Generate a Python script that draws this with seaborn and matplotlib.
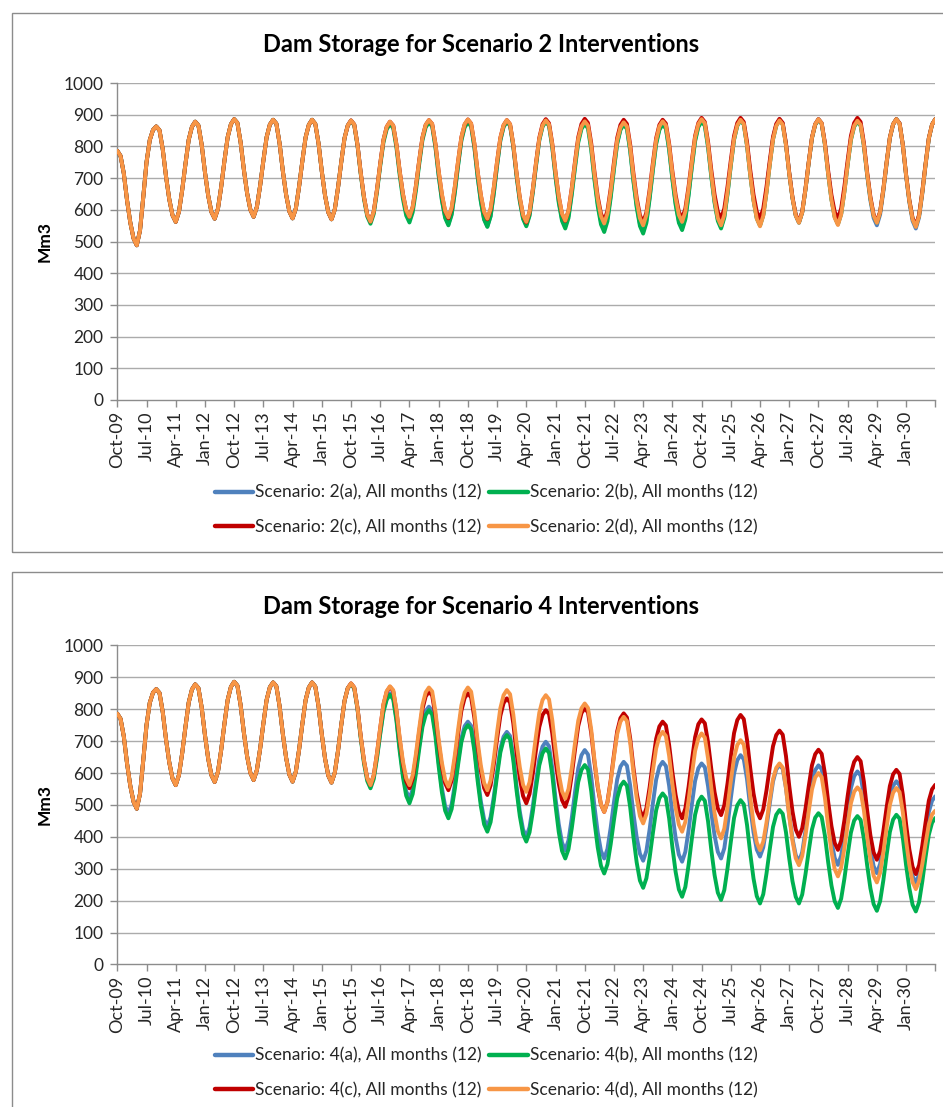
import numpy as np
import pandas as pd
import matplotlib
matplotlib.use("Agg")
import matplotlib.pyplot as plt
from matplotlib.lines import Line2D
from matplotlib.patches import Rectangle
import seaborn as sns

# ---------------- data (monthly storage, Mm3, Oct-09 .. Oct-30) ----------------
# common to every scenario: Oct-09 .. Sep-15
common_start = [
    786, 770, 715, 630, 560, 510, 488, 535, 640, 750, 820, 852,
    863, 851, 791, 706, 634, 583, 562, 594, 663, 745, 821, 862,
    878, 866, 805, 719, 645, 593, 572, 603, 672, 754, 829, 870,
    886, 874, 812, 726, 652, 600, 578, 609, 676, 755, 829, 869,
    884, 872, 809, 722, 648, 595, 573, 604, 673, 753, 828, 868,
    884, 871, 809, 721, 645, 592, 570, 601, 670, 751, 826, 866,
]

# Oct-15 .. Oct-30
s2a_rest = [
    882, 869, 805, 716, 639, 584, 562, 593, 662, 744, 819, 860,
    876, 864, 803, 718, 645, 593, 572, 603, 671, 751, 825, 865,
    880, 867, 802, 711, 633, 578, 555, 588, 659, 744, 822, 864,
    880, 867, 800, 707, 628, 571, 548, 581, 654, 741, 820, 863,
    880, 867, 801, 709, 631, 575, 552, 585, 657, 742, 821, 864,
    880, 867, 800, 707, 628, 571, 548, 581, 654, 739, 819, 862,
    878, 864, 797, 702, 621, 564, 540, 573, 646, 733, 812, 855,
    872, 858, 790, 695, 614, 556, 532, 566, 641, 730, 812, 857,
    874, 861, 794, 701, 622, 565, 542, 576, 651, 739, 821, 865,
    882, 869, 801, 707, 627, 570, 546, 580, 654, 742, 823, 867,
    884, 871, 804, 711, 632, 575, 552, 585, 659, 745, 825, 868,
    885, 872, 807, 715, 637, 582, 559, 592, 664, 749, 827, 870,
    886, 873, 807, 714, 634, 578, 555, 588, 660, 745, 823, 866,
    882, 869, 803, 710, 630, 574, 551, 585, 658, 745, 826, 869,
    886, 872, 803, 707, 624, 565, 541, 576, 651, 741, 824, 869,
    886,
]
s2b_rest = [
    880, 867, 802, 712, 634, 579, 556, 587, 656, 738, 813, 854,
    870, 858, 796, 709, 634, 582, 560, 592, 661, 743, 819, 860,
    876, 863, 798, 707, 629, 574, 551, 584, 655, 740, 818, 860,
    876, 863, 797, 704, 625, 569, 546, 579, 652, 739, 818, 861,
    878, 865, 799, 706, 627, 571, 548, 581, 654, 739, 819, 862,
    878, 865, 797, 703, 622, 565, 541, 574, 647, 732, 812, 855,
    871, 857, 789, 694, 612, 554, 530, 564, 638, 727, 808, 852,
    869, 855, 786, 690, 608, 549, 525, 559, 635, 725, 807, 852,
    869, 856, 789, 696, 616, 559, 536, 570, 645, 734, 816, 861,
    878, 865, 797, 703, 622, 565, 541, 575, 650, 739, 821, 865,
    882, 869, 802, 709, 630, 573, 550, 583, 656, 743, 822, 865,
    882, 869, 805, 715, 637, 583, 560, 592, 664, 748, 826, 868,
    884, 871, 805, 713, 634, 578, 555, 587, 658, 742, 820, 862,
    878, 865, 802, 713, 636, 582, 560, 593, 664, 749, 827, 870,
    886, 872, 805, 710, 629, 572, 548, 582, 656, 744, 825, 869,
    886,
]
s2c_rest = [
    882, 869, 805, 716, 640, 585, 563, 595, 664, 746, 821, 862,
    878, 866, 806, 722, 650, 599, 578, 609, 676, 755, 828, 868,
    883, 871, 809, 722, 647, 595, 573, 604, 673, 754, 829, 869,
    885, 872, 809, 721, 646, 592, 570, 601, 670, 752, 827, 867,
    883, 870, 805, 715, 638, 583, 560, 593, 664, 749, 827, 870,
    886, 873, 809, 719, 642, 587, 565, 597, 668, 752, 829, 871,
    887, 874, 810, 720, 642, 588, 565, 597, 667, 750, 827, 868,
    884, 871, 806, 716, 638, 583, 560, 592, 664, 748, 826, 868,
    884, 872, 809, 722, 647, 594, 572, 604, 674, 756, 833, 874,
    890, 877, 814, 725, 648, 594, 572, 604, 674, 756, 833, 874,
    890, 877, 814, 725, 648, 594, 572, 604, 673, 755, 830, 871,
    887, 874, 809, 718, 640, 585, 562, 594, 666, 750, 828, 870,
    886, 873, 811, 723, 647, 594, 572, 604, 674, 756, 833, 874,
    890, 877, 811, 719, 641, 585, 562, 594, 666, 750, 828, 870,
    886, 873, 805, 711, 631, 574, 550, 584, 658, 745, 826, 869,
    886,
]
s2d_rest = [
    882, 869, 805, 716, 640, 585, 563, 595, 664, 746, 821, 862,
    878, 866, 806, 722, 650, 599, 578, 609, 676, 755, 828, 868,
    883, 871, 809, 723, 650, 597, 576, 607, 675, 755, 829, 870,
    885, 872, 810, 722, 647, 594, 572, 603, 672, 752, 827, 867,
    883, 870, 806, 716, 639, 584, 562, 594, 664, 748, 824, 866,
    882, 869, 806, 718, 642, 588, 566, 597, 666, 748, 823, 863,
    879, 866, 802, 712, 634, 580, 557, 589, 659, 742, 819, 860,
    876, 863, 798, 707, 629, 574, 551, 584, 656, 741, 820, 863,
    879, 866, 803, 714, 638, 584, 562, 594, 666, 750, 828, 870,
    886, 873, 806, 712, 631, 574, 551, 584, 658, 744, 824, 867,
    884, 871, 803, 709, 629, 572, 548, 581, 655, 742, 822, 865,
    882, 869, 804, 714, 637, 582, 559, 592, 664, 749, 827, 870,
    886, 873, 806, 712, 632, 575, 552, 585, 657, 743, 822, 865,
    881, 868, 804, 714, 636, 582, 559, 592, 664, 749, 827, 870,
    886, 872, 804, 709, 628, 570, 546, 580, 655, 743, 825, 869,
    886,
]

s4a_rest = [
    880, 867, 803, 713, 635, 581, 558, 587, 651, 727, 797, 835,
    850, 837, 771, 678, 599, 543, 520, 549, 612, 687, 756, 794,
    808, 795, 728, 634, 553, 496, 473, 502, 565, 640, 709, 747,
    761, 748, 682, 590, 511, 455, 432, 462, 527, 604, 676, 714,
    729, 716, 650, 558, 479, 423, 400, 430, 495, 573, 644, 683,
    698, 684, 616, 521, 440, 382, 358, 389, 458, 540, 615, 656,
    672, 658, 590, 495, 414, 356, 332, 362, 429, 508, 580, 620,
    635, 623, 561, 474, 399, 347, 325, 356, 424, 505, 579, 620,
    635, 622, 560, 472, 397, 344, 322, 353, 421, 501, 575, 615,
    630, 618, 558, 475, 404, 353, 332, 364, 436, 520, 598, 640,
    656, 643, 580, 491, 414, 360, 338, 367, 430, 504, 573, 611,
    625, 613, 552, 467, 395, 343, 322, 352, 419, 497, 570, 609,
    624, 612, 549, 462, 387, 334, 312, 341, 406, 482, 552, 590,
    605, 592, 528, 439, 363, 308, 286, 315, 378, 453, 522, 560,
    574, 561, 497, 408, 332, 277, 255, 282, 342, 413, 478, 513,
    527,
]
s4b_rest = [
    878, 865, 800, 708, 630, 575, 552, 581, 646, 722, 792, 830,
    845, 831, 763, 668, 587, 529, 505, 534, 598, 674, 744, 782,
    797, 783, 716, 621, 539, 482, 458, 487, 551, 627, 697, 735,
    750, 737, 670, 576, 496, 439, 416, 446, 513, 592, 664, 704,
    719, 706, 639, 545, 465, 408, 385, 414, 478, 554, 624, 662,
    677, 663, 594, 498, 415, 356, 332, 361, 426, 502, 572, 610,
    625, 611, 543, 448, 367, 309, 285, 314, 377, 452, 521, 559,
    573, 560, 493, 400, 320, 263, 240, 270, 335, 412, 483, 521,
    536, 523, 458, 368, 290, 235, 212, 243, 312, 394, 469, 510,
    526, 513, 448, 358, 280, 225, 202, 233, 302, 384, 459, 499,
    515, 502, 437, 347, 269, 214, 191, 220, 285, 361, 431, 469,
    484, 472, 414, 332, 261, 212, 191, 219, 282, 355, 423, 460,
    474, 462, 403, 320, 248, 198, 177, 206, 269, 344, 413, 451,
    465, 453, 394, 311, 239, 189, 168, 198, 264, 343, 415, 454,
    469, 457, 396, 311, 239, 187, 166, 195, 260, 336, 406, 444,
    459,
]
s4c_rest = [
    881, 868, 804, 715, 639, 584, 562, 593, 661, 741, 815, 855,
    870, 857, 794, 705, 628, 574, 552, 582, 649, 728, 800, 840,
    855, 843, 781, 694, 620, 568, 546, 576, 643, 722, 795, 835,
    850, 837, 773, 684, 608, 553, 531, 561, 628, 707, 779, 819,
    834, 821, 755, 663, 584, 528, 505, 534, 598, 674, 744, 782,
    797, 785, 724, 639, 567, 515, 494, 525, 593, 673, 747, 788,
    803, 790, 725, 634, 556, 501, 478, 509, 577, 657, 731, 772,
    787, 774, 709, 617, 538, 483, 460, 490, 556, 635, 707, 746,
    761, 749, 688, 603, 531, 479, 458, 489, 557, 638, 712, 753,
    768, 756, 696, 612, 540, 489, 468, 499, 568, 650, 725, 766,
    782, 769, 704, 614, 536, 481, 458, 486, 546, 618, 684, 719,
    733, 720, 653, 560, 480, 423, 400, 427, 487, 558, 624, 659,
    673, 660, 598, 510, 434, 381, 359, 388, 452, 528, 598, 635,
    650, 637, 573, 483, 405, 351, 328, 356, 418, 492, 559, 596,
    610, 597, 532, 440, 361, 306, 283, 311, 373, 445, 513, 549,
    563,
]
s4d_rest = [
    881, 868, 804, 715, 639, 584, 562, 593, 661, 742, 816, 857,
    872, 860, 798, 711, 636, 584, 562, 593, 660, 739, 813, 853,
    868, 856, 793, 706, 632, 579, 557, 588, 657, 737, 812, 852,
    868, 855, 791, 701, 623, 569, 546, 577, 646, 728, 803, 844,
    860, 847, 783, 694, 618, 563, 541, 571, 638, 717, 789, 829,
    844, 831, 766, 676, 598, 543, 520, 550, 615, 693, 764, 803,
    818, 804, 736, 641, 560, 502, 478, 508, 573, 651, 722, 761,
    776, 763, 696, 602, 522, 465, 442, 471, 534, 608, 677, 715,
    729, 716, 654, 566, 491, 438, 416, 447, 515, 595, 669, 709,
    724, 711, 645, 553, 474, 418, 395, 426, 494, 574, 648, 688,
    703, 689, 620, 524, 441, 382, 358, 385, 445, 516, 581, 616,
    630, 617, 553, 464, 388, 333, 311, 340, 403, 479, 548, 586,
    600, 587, 522, 432, 354, 299, 276, 304, 365, 438, 505, 541,
    555, 543, 483, 400, 329, 278, 257, 287, 352, 429, 500, 538,
    553, 540, 477, 388, 312, 258, 236, 261, 315, 379, 438, 470,
    482,
]

tick_labels = [
    "Oct-09", "Jul-10", "Apr-11", "Jan-12", "Oct-12", "Jul-13", "Apr-14",
    "Jan-15", "Oct-15", "Jul-16", "Apr-17", "Jan-18", "Oct-18", "Jul-19",
    "Apr-20", "Jan-21", "Oct-21", "Jul-22", "Apr-23", "Jan-24", "Oct-24",
    "Jul-25", "Apr-26", "Jan-27", "Oct-27", "Jul-28", "Apr-29", "Jan-30",
]

names2 = ["Scenario: 2(a), All months (12)", "Scenario: 2(b), All months (12)",
          "Scenario: 2(c), All months (12)", "Scenario: 2(d), All months (12)"]
names4 = ["Scenario: 4(a), All months (12)", "Scenario: 4(b), All months (12)",
          "Scenario: 4(c), All months (12)", "Scenario: 4(d), All months (12)"]
titles = ["Dam Storage for Scenario 2 Interventions",
          "Dam Storage for Scenario 4 Interventions"]
colors = ["#4F81BD", "#00B050", "#C00000", "#F79646"]

# ---------------- build frames ----------------
def build(names, rests):
    rows = []
    for name, rest in zip(names, rests):
        vals = common_start + rest
        for i, v in enumerate(vals):
            rows.append({"m": i, "v": v, "series": name})
    return pd.DataFrame(rows)

df2 = build(names2, [s2a_rest, s2b_rest, s2c_rest, s2d_rest])
df4 = build(names4, [s4a_rest, s4b_rest, s4c_rest, s4d_rest])

# ---------------- figure ----------------
sns.set_theme(style="white")
plt.rcParams["font.family"] = ["Lato", "DejaVu Sans"]

W, H = 943, 1107
fig = plt.figure(figsize=(W / 100, H / 100), dpi=100)
fig.patch.set_facecolor("white")

def fx(px):
    return px / W

def fy(py):
    return 1 - py / H

frame_col = "#8c8c8c"
grid_col = "#ababab"

panels = [
    dict(df=df2, names=names2, title=titles[0], box=(12, 13, 552), ax_top=83.0, ax_bot=400.0,
         title_y=45, leg_y=510),
    dict(df=df4, names=names4, title=titles[1], box=(12, 572, 1120), ax_top=645.4, ax_bot=964.4,
         title_y=607, leg_y=1073),
]

ax_left, ax_right = 117.3, 935.3

for p in panels:
    bx, by0, by1 = p["box"]
    fig.add_artist(Rectangle((fx(bx), fy(by1)), fx(W + 10 - bx), (by1 - by0) / H,
                             transform=fig.transFigure, fill=False,
                             edgecolor=frame_col, lw=1.0))
    ax = fig.add_axes([fx(ax_left), fy(p["ax_bot"]), fx(ax_right - ax_left),
                       (p["ax_bot"] - p["ax_top"]) / H])
    ax.set_facecolor("none")
    for y in range(100, 1001, 100):
        ax.axhline(y, color=grid_col, lw=1.0, zorder=0)
    sns.lineplot(data=p["df"], x="m", y="v", hue="series", hue_order=p["names"],
                 palette=colors, linewidth=2.8, legend=False, ax=ax,
                 solid_joinstyle="round", solid_capstyle="round", zorder=3)
    ax.set_xlim(0, 252)
    ax.set_ylim(0, 1000)
    ax.set_xticks(list(range(0, 253, 9)))
    ax.set_xticklabels(tick_labels + [""], rotation=90, fontsize=13)
    ax.set_yticks(list(range(0, 1001, 100)))
    ax.set_yticklabels([str(v) for v in range(0, 1001, 100)], fontsize=12.5)
    ax.tick_params(axis="x", length=5, width=1, color=frame_col, pad=3, direction="out", bottom=True)
    ax.tick_params(axis="y", length=5, width=1, color=frame_col, pad=5, direction="out", left=True)
    for s in ["top", "right"]:
        ax.spines[s].set_visible(False)
    for s in ["left", "bottom"]:
        ax.spines[s].set_color(frame_col)
        ax.spines[s].set_linewidth(1.0)
    ax.set_xlabel("")
    ax.set_ylabel("Mm3", fontsize=12.5, fontweight="bold", color="black")
    ax.yaxis.set_label_coords(-(ax_left - 53) / (ax_right - ax_left), 0.5)
    ax.grid(False)

    fig.text(fx(481), fy(p["title_y"]), p["title"], ha="center", va="center",
             fontsize=17, fontweight="bold", color="black")

    handles = [Line2D([0], [0], color=c, lw=3.2) for c in colors]
    order = [0, 2, 1, 3]
    fig.legend([handles[i] for i in order], [p["names"][i] for i in order],
               loc="center", bbox_to_anchor=(fx(486), fy(p["leg_y"])), ncol=2,
               frameon=False, fontsize=12.5, handlelength=2.2, handletextpad=0.12,
               columnspacing=0.45, labelspacing=1.05)

fig.savefig("out.png", dpi=100, facecolor="white")
